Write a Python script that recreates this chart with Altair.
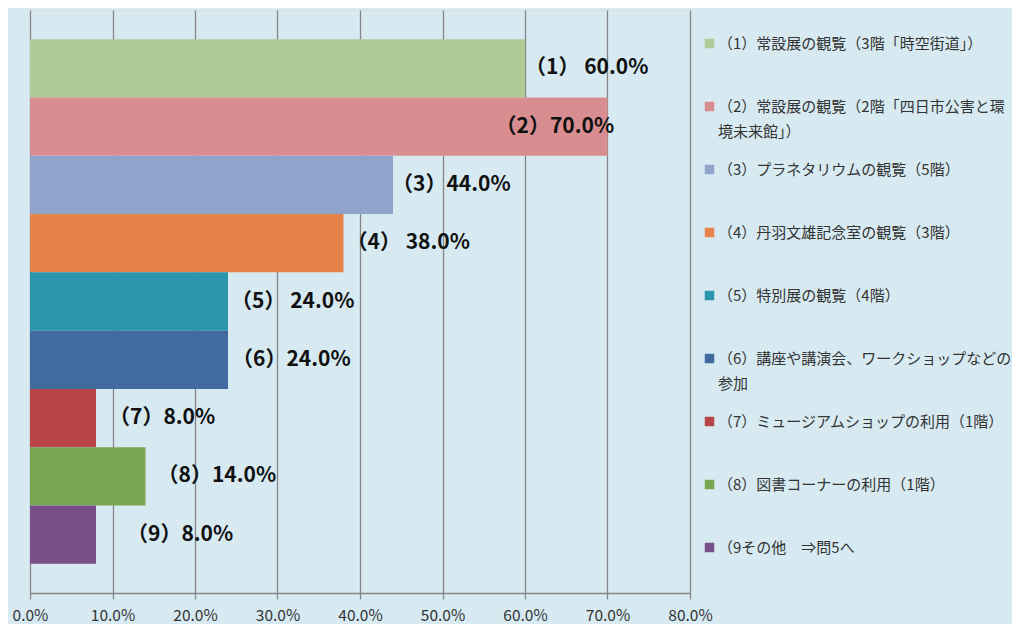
import altair as alt
import pandas as pd

categories = [
    "（1）常設展の観覧（3階「時空街道」）",
    "（2）常設展の観覧（2階「四日市公害と環境未来館」）",
    "（3）プラネタリウムの観覧（5階）",
    "（4）丹羽文雄記念室の観覧（3階）",
    "（5）特別展の観覧（4階）",
    "（6）講座や講演会、ワークショップなどの参加",
    "（7）ミュージアムショップの利用（1階）",
    "（8）図書コーナーの利用（1階）",
    "（9その他　⇒問5へ",
]
values = [0.60, 0.70, 0.44, 0.38, 0.24, 0.24, 0.08, 0.14, 0.08]
bar_labels = [
    "（1） 60.0%", "（2）70.0%", "（3）44.0%", "（4） 38.0%", "（5） 24.0%",
    "（6）24.0%", "（7）8.0%", "（8）14.0%", "（9）8.0%",
]
tick_values = [0.0, 0.1, 0.2, 0.3, 0.4, 0.5, 0.6, 0.7, 0.8]

# styles
colors = ["#afcc96", "#d88e90", "#8fa3cb", "#e5834a", "#2a95ab",
          "#416b9f", "#b84548", "#7aa651", "#775089"]
label_dx = [0, -112, -1, 3, 3, 4, 13, 12, 31]
FONT = "Noto Sans CJK JP"

df = pd.DataFrame({
    "category": categories,
    "value": values,
    "label": bar_labels,
    "idx": list(range(len(categories))),
})

label_expr = (
    f"datum.label == '{categories[1]}' ? ['（2）常設展の観覧（2階「四日市公害と環', '境未来館」）'] : "
    f"datum.label == '{categories[5]}' ? ['（6）講座や講演会、ワークショップなどの', '参加'] : datum.label"
)

y_enc = alt.Y("category:N", sort=categories,
              scale=alt.Scale(paddingInner=0, paddingOuter=0.5), axis=None)
x_enc = alt.X("value:Q", title=None,
              scale=alt.Scale(domain=[0, 0.8], nice=False, zero=True),
              axis=alt.Axis(format=".1%", values=tick_values, grid=True,
                            gridColor="#868686", gridWidth=1.3,
                            domainColor="#868686", domainWidth=1.5,
                            tickColor="#868686", tickSize=6, tickWidth=1.3,
                            labelFont=FONT, labelFontSize=15.5, labelColor="#333333",
                            labelPadding=9, labelFlush=False))

base = alt.Chart(df)

bars = base.mark_bar().encode(
    x=x_enc,
    y=y_enc,
    color=alt.Color("category:N", sort=categories,
                    scale=alt.Scale(domain=categories, range=colors),
                    legend=alt.Legend(title=None, orient="none", legendX=672, legendY=26,
                                      direction="vertical", symbolType="square",
                                      symbolSize=90, symbolStrokeWidth=0,
                                      labelFont=FONT, labelFontSize=15,
                                      labelColor="#333333", labelLimit=340,
                                      labelOffset=1, rowPadding=22, gridAlign="all",
                                      padding=0, labelExpr=label_expr)),
)

texts = []
for i in range(len(categories)):
    texts.append(
        base.transform_filter(alt.datum.idx == i)
        .mark_text(align="left", baseline="middle", dx=label_dx[i],
                   font=FONT, fontSize=21, fontWeight="bold", color="#111111")
        .encode(x="value:Q", y=alt.Y("category:N", sort=categories), text="label:N")
    )

chart = alt.layer(bars, *texts).properties(
    width=660, height=583,
    autosize=alt.AutoSizeParams(type="none"),
    padding={"left": 22, "top": 2, "right": 322, "bottom": 31},
    background="#d7eaf2",
).configure_view(
    fill="white", strokeWidth=0
).configure(
    style={"guide-label": {"lineHeight": 25}}
)

chart.save("out.html", embed_options={"renderer": "svg", "actions": False})
